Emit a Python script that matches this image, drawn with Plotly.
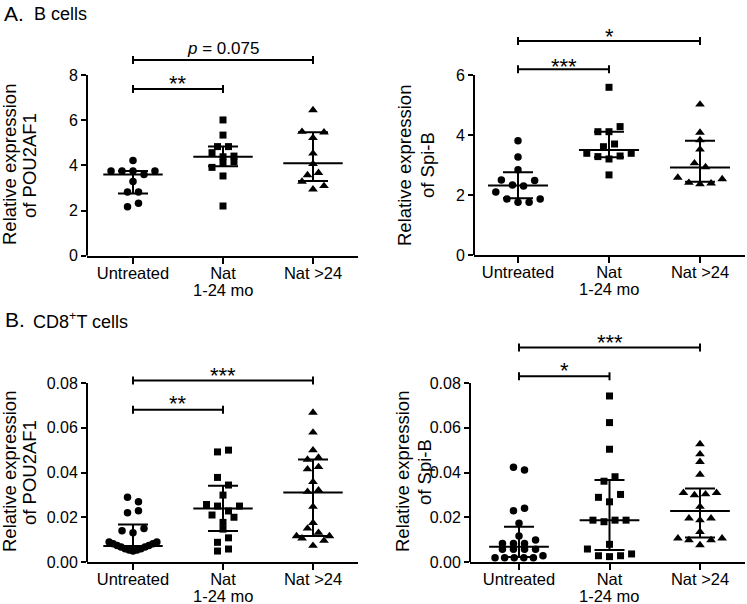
import plotly.graph_objects as go

W, H = 747, 604

# ---------------- DATA ----------------
categories = ["Untreated", "Nat", "Nat >24"]
category_sublabels = ["", "1-24 mo", ""]

# A. B cells, POU2AF1 (values grouped in rows of similar level, listed left to right)
a_pou_untreated = [[4.21], [3.75, 3.75, 3.75, 3.59, 3.75], [3.28], [2.82, 2.82], [2.17, 2.32]]
a_pou_nat124 = [[6.01], [5.34], [4.83, 4.83], [4.56, 4.38, 4.41], [3.91, 4.12, 4.16], [3.53], [2.20]]
a_pou_nat24 = [[6.45], [5.49, 5.22, 5.46], [4.53], [4.06], [3.57, 3.67], [3.28, 2.94, 3.09]]
a_pou_median = [3.59, 4.38, 4.09]
a_pou_q1 = [2.75, 3.96, 3.31]
a_pou_q3 = [3.75, 4.83, 5.47]
a_pou_sig = ["**", "<i>p</i> = 0.075"]

# A. B cells, Spi-B
a_spib_untreated = [[3.81], [3.27], [2.84], [2.50, 2.33, 2.30, 2.48], [2.10, 1.87, 1.76, 1.76, 1.87]]
a_spib_nat124 = [[5.59], [4.11, 4.11, 4.28], [3.61, 3.70], [3.39, 3.28, 3.20, 3.30, 3.39], [2.67]]
a_spib_nat24 = [[5.02], [4.08], [3.83], [3.52], [3.06, 2.93], [2.58, 2.41, 2.36, 2.39, 2.53]]
a_spib_median = [2.32, 3.50, 2.92]
a_spib_q1 = [1.89, 3.26, 2.44]
a_spib_q3 = [2.76, 4.11, 3.81]
a_spib_sig = ["***", "*"]

# B. CD8+ T cells, POU2AF1
b_pou_untreated = [[0.0289, 0.0269], [0.0220, 0.0229], [0.0140, 0.0131, 0.0150],
                   [0.0089, 0.0082, 0.0074, 0.0067, 0.0059, 0.0054, 0.0049,
                    0.0054, 0.0059, 0.0067, 0.0074, 0.0082, 0.0089]]
b_pou_nat124 = [[0.0492, 0.0500], [0.0378, 0.0344], [0.0299], [0.0257, 0.0250, 0.0228, 0.0250],
                [0.0210, 0.0177, 0.0200], [0.0147], [0.0088, 0.0108], [0.0049, 0.0058]]
b_pou_nat24 = [[0.0668], [0.0579], [0.0500], [0.0458, 0.0467], [0.0415, 0.0425], [0.0358],
               [0.0314, 0.0321], [0.0247], [0.0175], [0.0116, 0.0150, 0.0131, 0.0116],
               [0.0106, 0.0073, 0.0095]]
b_pou_median = [0.0071, 0.0239, 0.0311]
b_pou_q1 = [0.0058, 0.0138, 0.0116]
b_pou_q3 = [0.0168, 0.0341, 0.0458]
b_pou_sig = ["**", "***"]

# B. CD8+ T cells, Spi-B
b_spib_untreated = [[0.0423, 0.0411], [0.0229, 0.0240], [0.0173], [0.0116],
                    [0.0083, 0.0083, 0.0083, 0.0098], [0.0057, 0.0057, 0.0057, 0.0057],
                    [0.0019, 0.0019, 0.0019, 0.0019, 0.0019, 0.0028]]
b_spib_nat124 = [[0.0742], [0.0623], [0.0504], [0.0361, 0.0381], [0.0289, 0.0269, 0.0302],
                 [0.0187, 0.0180, 0.0187, 0.0187], [0.0079],
                 [0.0058, 0.0028, 0.0024, 0.0028, 0.0036]]
b_spib_nat24 = [[0.0527], [0.0482], [0.0448], [0.0391], [0.0309, 0.0299, 0.0303, 0.0309],
                [0.0247], [0.0195, 0.0187, 0.0195], [0.0135],
                [0.0106, 0.0098, 0.0076, 0.0098, 0.0106]]
b_spib_median = [0.0068, 0.0187, 0.0228]
b_spib_q1 = [0.0022, 0.0054, 0.0110]
b_spib_q3 = [0.0158, 0.0366, 0.0329]
b_spib_sig = ["*", "***"]

sig_pairs = [(0, 1), (0, 2)]

# ---------------- LAYOUT / STYLE ----------------
FONT = "Arial, Liberation Sans, sans-serif"
SYMBOLS = ["circle", "square", "triangle-up"]
SIZES = [7.5, 7, 8.5]
MEDIAN_HALF = 0.33
SUBLABEL_GAP = 34  # px below the x axis line for the second label line
XTICK_SIZE = 16.5


def px_x(px):
    return px / W


def px_y(py):
    return 1 - py / H


def row_offsets(n, step=0.122, span=0.53):
    if n == 1:
        return [0.0]
    s = min(step, span / (n - 1))
    return [(k - (n - 1) / 2) * s for k in range(n)]


panels = [
    dict(groups=[a_pou_untreated, a_pou_nat124, a_pou_nat24], med=a_pou_median, q1=a_pou_q1, q3=a_pou_q3,
         sig=a_pou_sig, xl=87, xr=358, c0=133, c2=313, yb=255.7, yt=75, ytop=40,
         tickvals=[0, 2, 4, 6, 8], fmt="d", brk=[7.38, 8.66], tshift=[6, 12],
         title=["Relative expression", "of POU2AF1"], tx=[9, 29], ty=165),
    dict(groups=[a_spib_untreated, a_spib_nat124, a_spib_nat24], med=a_spib_median, q1=a_spib_q1, q3=a_spib_q3,
         sig=a_spib_sig, xl=474, xr=745, c0=518, c2=700, yb=255, yt=75, ytop=25,
         tickvals=[0, 2, 4, 6], fmt="d", brk=[6.19, 7.13], tshift=[3, 4.5],
         title=["Relative expression", "of Spi-B"], tx=[404, 427], ty=165),
    dict(groups=[b_pou_untreated, b_pou_nat124, b_pou_nat24], med=b_pou_median, q1=b_pou_q1, q3=b_pou_q3,
         sig=b_pou_sig, xl=87, xr=358, c0=133, c2=313, yb=562, yt=383, ytop=330,
         tickvals=[0, 0.02, 0.04, 0.06, 0.08], fmt=".2f", brk=[0.0681, 0.0811], tshift=[6, 5],
         title=["Relative expression", "of POU2AF1"], tx=[9, 29], ty=472),
    dict(groups=[b_spib_untreated, b_spib_nat124, b_spib_nat24], med=b_spib_median, q1=b_spib_q1, q3=b_spib_q3,
         sig=b_spib_sig, xl=470, xr=745, c0=519, c2=700, yb=562, yt=383, ytop=330,
         tickvals=[0, 0.02, 0.04, 0.06, 0.08], fmt=".2f", brk=[0.083, 0.0959], tshift=[6, 5],
         title=["Relative expression", "of Spi-B"], tx=[402, 424], ty=472),
]

fig = go.Figure()
shapes = []
annotations = []
layout_axes = {}

for i, p in enumerate(panels):
    n = "" if i == 0 else str(i + 1)
    xa, ya = "x" + n, "y" + n

    # points
    for g, rows in enumerate(p["groups"]):
        xs, ys = [], []
        for row in rows:
            for v, o in zip(row, row_offsets(len(row))):
                xs.append(g + o)
                ys.append(v)
        fig.add_trace(go.Scatter(
            x=xs, y=ys, mode="markers", xaxis=xa, yaxis=ya, cliponaxis=False,
            marker=dict(symbol=SYMBOLS[g], size=SIZES[g], color="black", line=dict(width=0)),
            showlegend=False, hoverinfo="skip"))

    # median with interquartile range
    med, q1, q3 = p["med"], p["q1"], p["q3"]
    fig.add_trace(go.Scatter(
        x=[0, 1, 2], y=med, mode="markers", xaxis=xa, yaxis=ya,
        marker=dict(size=1, color="rgba(0,0,0,0)"),
        error_y=dict(type="data", symmetric=False,
                     array=[b - a for a, b in zip(med, q3)],
                     arrayminus=[a - b for a, b in zip(med, q1)],
                     width=15, thickness=2, color="black"),
        error_x=dict(type="constant", value=MEDIAN_HALF, width=0, thickness=2, color="black"),
        showlegend=False, hoverinfo="skip"))

    sp = (p["c2"] - p["c0"]) / 2
    xrange = [-(p["c0"] - p["xl"]) / sp, 2 + (p["xr"] - p["c2"]) / sp]
    top_tick = p["tickvals"][-1]
    ymax = top_tick * (p["yb"] - p["ytop"]) / (p["yb"] - p["yt"])

    layout_axes["xaxis" + n] = dict(
        domain=[px_x(p["xl"]), px_x(p["xr"])], range=xrange, anchor=ya,
        tickmode="array", tickvals=[0, 1, 2], ticktext=categories,
        showline=True, linewidth=2, linecolor="black",
        ticks="outside", ticklen=6, tickwidth=2, tickcolor="black",
        ticklabelstandoff=-5,
        showgrid=False, zeroline=False, automargin=False,
        tickfont=dict(family=FONT, size=XTICK_SIZE, color="black"))
    if p["fmt"] == "d":
        ticktext = [str(v) for v in p["tickvals"]]
    else:
        ticktext = [format(v, p["fmt"]) for v in p["tickvals"]]
    layout_axes["yaxis" + n] = dict(
        domain=[px_y(p["yb"]), px_y(p["ytop"])], range=[0, ymax], anchor=xa,
        tickmode="array", tickvals=p["tickvals"], ticktext=ticktext,
        showline=False, ticks="outside", ticklen=5, tickwidth=2, tickcolor="black",
        showgrid=False, zeroline=False, automargin=False,
        tickfont=dict(family=FONT, size=16, color="black"))

    # second line of category labels
    for g, sub in enumerate(category_sublabels):
        if sub:
            annotations.append(dict(x=g, y=px_y(p["yb"] + SUBLABEL_GAP), xref=xa, yref="paper", text=sub,
                                    showarrow=False, xanchor="center", yanchor="middle", borderpad=0,
                                    font=dict(family=FONT, size=XTICK_SIZE, color="black")))

    # y axis line only up to the top tick
    shapes.append(dict(type="line", xref=xa + " domain", yref=ya, x0=0, x1=0, y0=0, y1=top_tick,
                       line=dict(color="black", width=2)))

    # significance brackets
    for (a, b), yb_, lab, ts in zip(sig_pairs, p["brk"], p["sig"], p["tshift"]):
        shapes.append(dict(type="line", xref=xa, yref=ya, x0=a, x1=b, y0=yb_, y1=yb_,
                           line=dict(color="black", width=2)))
        for xe in (a, b):
            shapes.append(dict(type="line", xref=xa, yref=ya, x0=xe, x1=xe,
                               ysizemode="pixel", yanchor=yb_, y0=-4, y1=4,
                               line=dict(color="black", width=2)))
        is_star = lab.startswith("*")
        annotations.append(dict(x=(a + b) / 2, y=yb_, xref=xa, yref=ya, text=lab, showarrow=False,
                                xanchor="center", yanchor="middle", yshift=ts,
                                font=dict(family=FONT, size=22 if is_star else 17, color="black")))

    # y-axis title (two lines)
    for line, tx in zip(p["title"], p["tx"]):
        annotations.append(dict(x=px_x(tx), y=px_y(p["ty"]), xref="paper", yref="paper", text=line,
                                textangle=-90, showarrow=False, xanchor="center", yanchor="middle",
                                font=dict(family=FONT, size=18.5, color="black")))

# panel headings
annotations += [
    dict(x=px_x(2), y=px_y(13.5), xref="paper", yref="paper", text="A.", showarrow=False,
         xanchor="left", yanchor="middle", font=dict(family=FONT, size=21, color="black")),
    dict(x=px_x(32), y=px_y(14.5), xref="paper", yref="paper", text="B cells", showarrow=False,
         xanchor="left", yanchor="middle", font=dict(family=FONT, size=18, color="black")),
    dict(x=px_x(3), y=px_y(319.5), xref="paper", yref="paper", text="B.", showarrow=False,
         xanchor="left", yanchor="middle", font=dict(family=FONT, size=21, color="black")),
    dict(x=px_x(31), y=px_y(320.5), xref="paper", yref="paper", text="CD8<sup>+</sup>T cells",
         showarrow=False, xanchor="left", yanchor="middle",
         font=dict(family=FONT, size=18, color="black")),
]

fig.update_layout(
    template="none",
    width=W, height=H,
    margin=dict(l=0, r=0, t=0, b=0),
    paper_bgcolor="white", plot_bgcolor="white",
    font=dict(family=FONT, color="black"),
    showlegend=False,
    shapes=shapes,
    annotations=annotations,
    **layout_axes,
)

fig.write_html("out.html", config={"displayModeBar": False},
               post_script="document.body.style.margin='0';document.body.style.padding='0';")
